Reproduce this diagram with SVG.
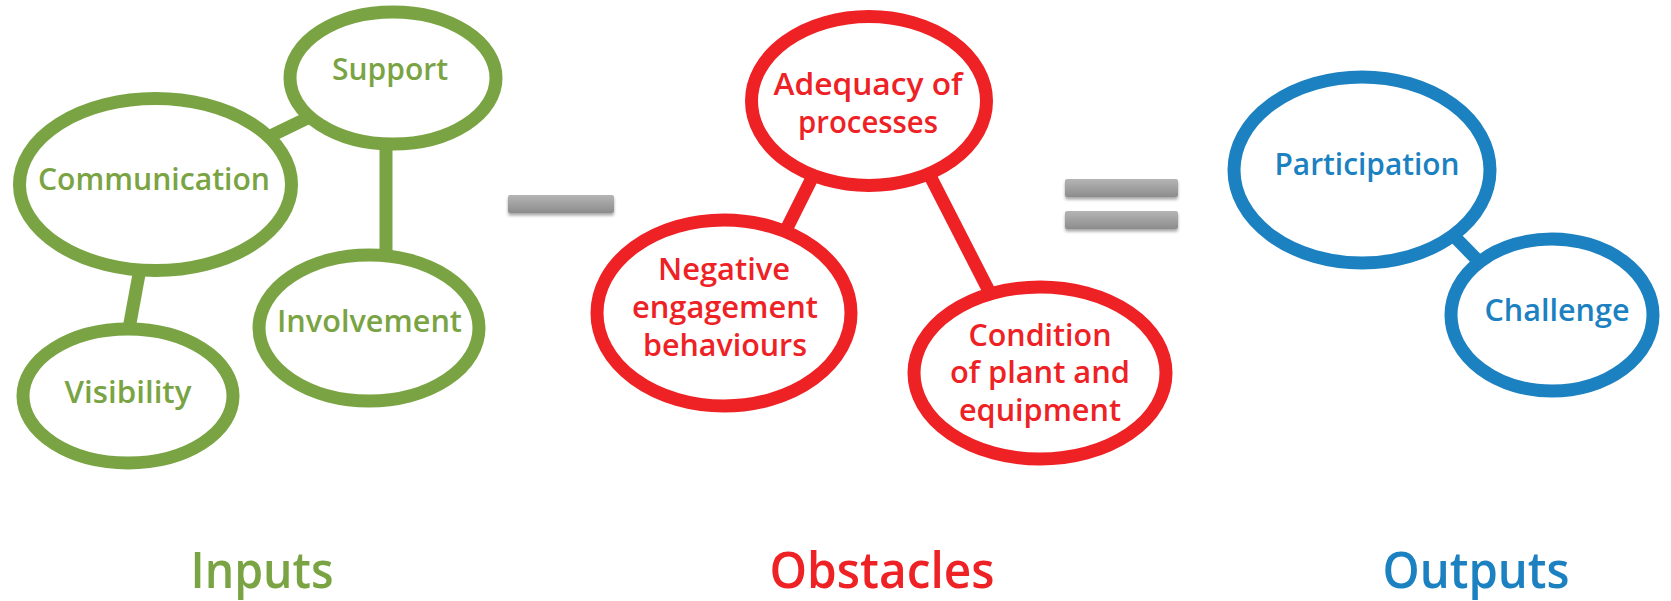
<svg xmlns="http://www.w3.org/2000/svg" width="1671" height="601" viewBox="0 0 1671 601">
<defs>
<linearGradient id="bar" x1="0" y1="0" x2="0" y2="1">
<stop offset="0" stop-color="#b5b5b5"/>
<stop offset="1" stop-color="#8c8c8c"/>
</linearGradient>
<filter id="sh" x="-10%" y="-50%" width="120%" height="250%">
<feDropShadow dx="0" dy="2.5" stdDeviation="1.5" flood-color="#000" flood-opacity="0.35"/>
</filter>
</defs>
<style>
.g{stroke:#7aa444;}
.r{stroke:#ee2125;}
.b{stroke:#1b81c1;}
ellipse{fill:#fff;stroke-width:13;}
line{stroke-width:13;}
text{font-family:"Open Sans","Liberation Sans",sans-serif;font-weight:600;text-anchor:middle;font-size:30px;}
.tg{fill:#7aa444;}
.tr{fill:#ee2125;}
.tb{fill:#1b81c1;}
.big{font-size:50px;}
.op{fill:url(#bar);filter:url(#sh);}
</style>
<rect width="1671" height="601" fill="#fff"/>
<g id="connectors">
<line class="g" x1="250" y1="146" x2="320" y2="112"/>
<line class="g" x1="386" y1="140" x2="386" y2="262"/>
<line class="g" x1="140.7" y1="265" x2="127.8" y2="335"/>
<line class="r" x1="815" y1="172" x2="782" y2="238"/>
<line class="r" x1="927" y1="170" x2="991" y2="295"/>
<line class="b" x1="1450" y1="232" x2="1490" y2="273"/>
</g>
<g id="support"><ellipse class="g" cx="393" cy="78" rx="103" ry="66"/><text class="tg" x="390" y="80" textLength="116" lengthAdjust="spacingAndGlyphs">Support</text></g>
<g id="communication"><ellipse class="g" cx="155.5" cy="184.5" rx="136" ry="86"/><text class="tg" x="154" y="190" textLength="232" lengthAdjust="spacingAndGlyphs">Communication</text></g>
<g id="involvement"><ellipse class="g" cx="369" cy="328" rx="110" ry="73"/><text class="tg" x="369.5" y="332" textLength="185" lengthAdjust="spacingAndGlyphs">Involvement</text></g>
<g id="visibility"><ellipse class="g" cx="128" cy="396" rx="105" ry="67"/><text class="tg" x="128" y="403" textLength="127" lengthAdjust="spacingAndGlyphs">Visibility</text></g>
<g id="minus"><rect class="op" x="508" y="195" width="106" height="18" rx="2"/></g>
<g id="adequacy"><ellipse class="r" cx="869" cy="101" rx="117.5" ry="84.5"/><text class="tr" x="868" y="95" textLength="189" lengthAdjust="spacingAndGlyphs">Adequacy of</text><text class="tr" x="868" y="133" textLength="140" lengthAdjust="spacingAndGlyphs">processes</text></g>
<g id="negative"><ellipse class="r" cx="724" cy="313" rx="127" ry="93"/><text class="tr" x="724" y="280" textLength="132" lengthAdjust="spacingAndGlyphs">Negative</text><text class="tr" x="725" y="318" textLength="186" lengthAdjust="spacingAndGlyphs">engagement</text><text class="tr" x="725" y="356" textLength="164" lengthAdjust="spacingAndGlyphs">behaviours</text></g>
<g id="condition"><ellipse class="r" cx="1040" cy="373" rx="126" ry="86"/><text class="tr" x="1040" y="346" textLength="143" lengthAdjust="spacingAndGlyphs">Condition</text><text class="tr" x="1040" y="383" textLength="180" lengthAdjust="spacingAndGlyphs">of plant and</text><text class="tr" x="1040" y="421" textLength="162" lengthAdjust="spacingAndGlyphs">equipment</text></g>
<g id="equals"><rect class="op" x="1065" y="179" width="113" height="18" rx="2"/><rect class="op" x="1065" y="211" width="113" height="18" rx="2"/></g>
<g id="participation"><ellipse class="b" cx="1362" cy="170" rx="128" ry="93"/><text class="tb" x="1367" y="175" textLength="185" lengthAdjust="spacingAndGlyphs">Participation</text></g>
<g id="challenge"><ellipse class="b" cx="1552" cy="315" rx="101" ry="76"/><text class="tb" x="1557" y="321" textLength="145" lengthAdjust="spacingAndGlyphs">Challenge</text></g>
<g id="labels">
<text class="tg big" x="262" y="588" textLength="143" lengthAdjust="spacingAndGlyphs">Inputs</text>
<text class="tr big" x="882" y="588" textLength="225" lengthAdjust="spacingAndGlyphs">Obstacles</text>
<text class="tb big" x="1476" y="588" textLength="187" lengthAdjust="spacingAndGlyphs">Outputs</text>
</g>
</svg>
